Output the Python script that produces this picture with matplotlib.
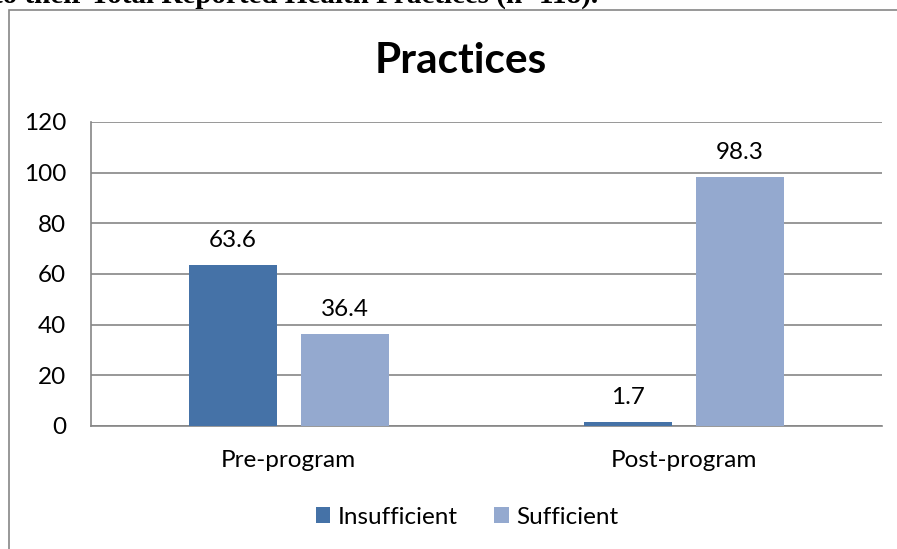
import numpy as np
import matplotlib.pyplot as plt
from matplotlib.patches import Rectangle

categories = ['Pre-program', 'Post-program']
insufficient = [63.6, 1.7]
sufficient = [36.4, 98.3]
series_names = ['Insufficient', 'Sufficient']
yticks = [0, 20, 40, 60, 80, 100, 120]

DARK = '#4572A7'
LIGHT = '#94A9CF'
GRID = '#868686'

plt.rcParams['font.family'] = ['Lato', 'DejaVu Sans']

fig = plt.figure(figsize=(8.97, 5.49), dpi=100)

# caption line from the page above, clipped by the figure edge
fig.text(598 / 897, 1 - 3 / 549, 'to their Total Reported Health Practices (n=118).',
         ha='right', va='baseline', fontsize=21, fontweight='bold',
         family='Liberation Serif')

# chart area frame
fig.patches.append(Rectangle((9 / 897, -0.1), 1.2, 0.1 + 1 - 10 / 549,
                             transform=fig.transFigure, fill=False,
                             edgecolor=GRID, lw=1.2))

ax = fig.add_axes([91 / 897, 1 - 426 / 549, 791 / 897, 304 / 549])

x = np.arange(len(categories))
w = 0.2225
gap = 0.06
b1 = ax.bar(x - (w + gap) / 2, insufficient, w, color=DARK, label=series_names[0], zorder=3)
b2 = ax.bar(x + (w + gap) / 2, sufficient, w, color=LIGHT, label=series_names[1], zorder=3)

for bars, vals in ((b1, insufficient), (b2, sufficient)):
    for r, v in zip(bars, vals):
        ax.annotate(f'{v}', (r.get_x() + r.get_width() / 2, v), xytext=(0, 10),
                    textcoords='offset points', ha='center', va='bottom', fontsize=17.5)

ax.set_xlim(-0.5, 1.5)
ax.set_ylim(0, 120)
ax.set_yticks(yticks)
ax.set_xticks(x)
ax.set_xticklabels(categories)
ax.tick_params(axis='both', length=0, labelsize=17.5)
ax.tick_params(axis='y', pad=18)
ax.tick_params(axis='x', pad=17)
ax.yaxis.grid(True, color=GRID, lw=1.2, zorder=0)
ax.set_axisbelow(True)
for s in ('top', 'right'):
    ax.spines[s].set_visible(False)
for s in ('left', 'bottom'):
    ax.spines[s].set_color(GRID)
    ax.spines[s].set_linewidth(1.2)

fig.text(461 / 897, 1 - 61 / 549, 'Practices', ha='center', va='center',
         fontsize=30.5, fontweight='bold')

fig.legend(handles=[b1, b2], loc='center', bbox_to_anchor=(467 / 897, 1 - 517 / 549),
           ncol=2, frameon=False, fontsize=17.5, handlelength=0.6, handleheight=0.6,
           handletextpad=0.3, columnspacing=1.5)

fig.savefig('out.png', dpi=100)
